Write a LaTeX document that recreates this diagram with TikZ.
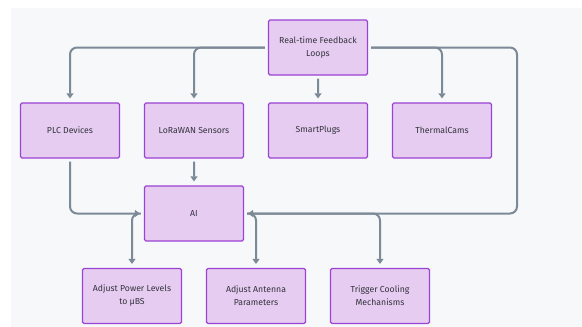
\documentclass[tikz,border=0pt]{standalone}
\usepackage{fontspec}
\setmainfont{Fira Sans}
\usetikzlibrary{arrows.meta,positioning}
\definecolor{boxfill}{HTML}{E6CCF0}
\definecolor{boxline}{HTML}{9C42D4}
\definecolor{wire}{HTML}{7B8A96}
\definecolor{txt}{HTML}{33333F}
\definecolor{bg}{HTML}{F7F8FA}

\begin{document}
\begin{tikzpicture}[x=1pt,y=-1pt,
	box/.style={draw=boxline,line width=1.2pt,fill=boxfill,rounded corners=1.5pt,minimum width=99pt,minimum height=55pt,inner sep=2pt,align=center,text=txt,font=\fontsize{8.7}{13}\selectfont},
	wireto/.style={draw=wire,line width=2pt,rounded corners=7pt,-{Triangle[width=7pt,length=5pt]},shorten >=4pt,shorten <=3pt}]
	\useasboundingbox (0,0) rectangle (582,327);
	\fill[bg] (11,8) rectangle (582,327);
	\node[box] (rtfl) at (318,47.5) {Real-time Feedback\\Loops};
	\node[box] (plc) at (70,130.5) {PLC Devices};
	\node[box,right=23.8pt of plc] (lora) {LoRaWAN Sensors};
	\node[box,right=23.8pt of lora] (plugs) {SmartPlugs};
	\node[box,right=23.8pt of plugs] (cams) {ThermalCams};
	\node[box] (ai) at (194,213.5) {AI};
	\node[box] (power) at (132,296) {Adjust Power Levels\\to \textmu BS};
	\node[box,right=23.8pt of power] (antenna) {Adjust Antenna\\Parameters};
	\node[box,right=23.8pt of antenna] (cool) {Trigger Cooling\\Mechanisms};
	\coordinate (rx) at (517,47.5);
	% fan out from the feedback loops
	\draw[wireto] (rtfl.west) -| (plc.north);
	\draw[wireto] (rtfl.west) -| (lora.north);
	\draw[wireto] (rtfl.south) -- (plugs.north);
	\draw[wireto] (rtfl.east) -| (cams.north);
	\draw[wireto] (rtfl.east) -- (rx) |- (ai.east);
	% into and out of AI
	\draw[wireto] (plc.south) |- (ai.west);
	\draw[wireto] (lora.south) -- (ai.north);
	\draw[wireto] (ai.west) -| (power.north);
	\draw[wireto] (ai.east) -| (antenna.north);
	\draw[wireto] (ai.east) -| (cool.north);
\end{tikzpicture}
\end{document}
